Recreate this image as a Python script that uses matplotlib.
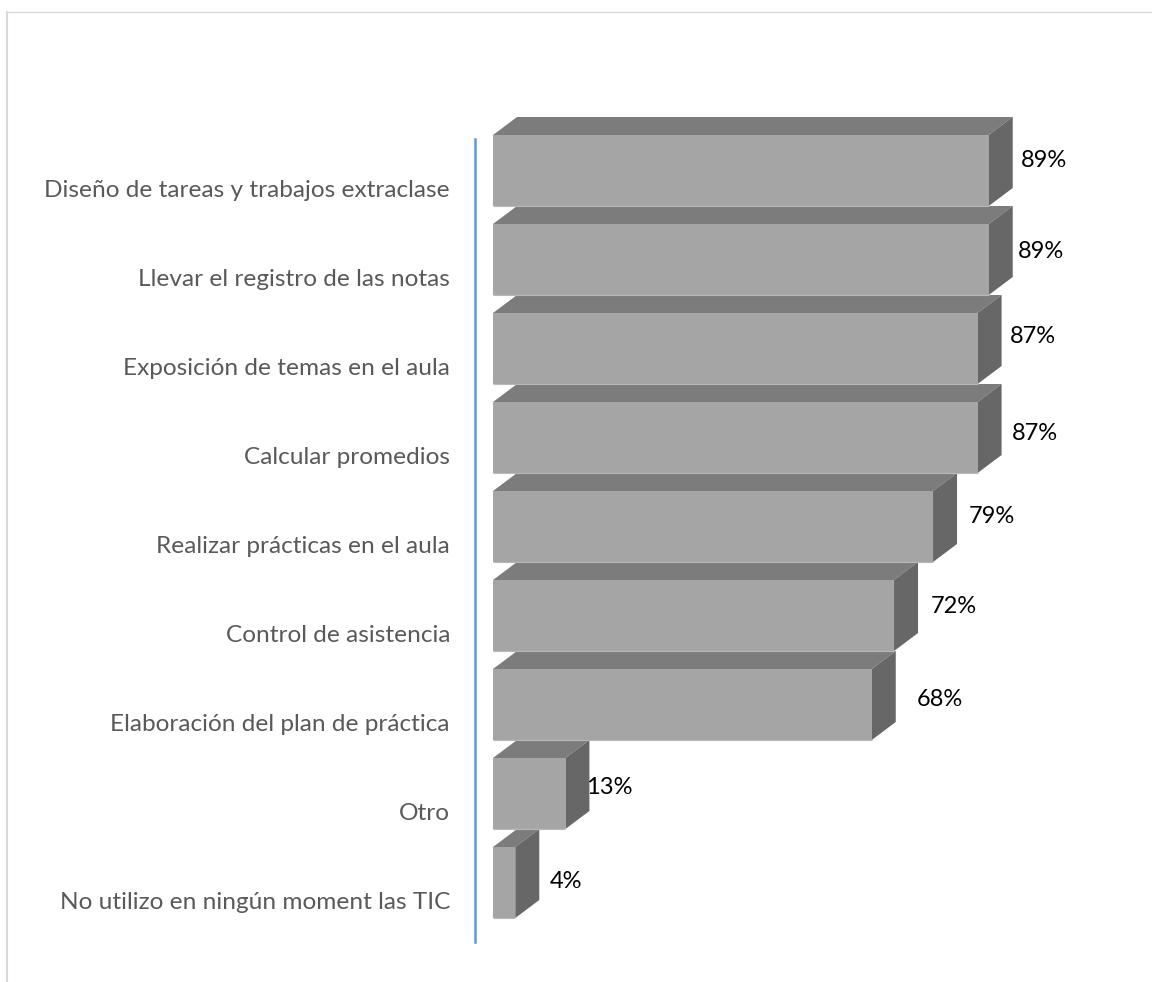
import matplotlib
matplotlib.use('Agg')
import matplotlib.pyplot as plt
from matplotlib.lines import Line2D

categories = ['Diseño de tareas y trabajos extraclase',
              'Llevar el registro de las notas',
              'Exposición de temas en el aula',
              'Calcular promedios',
              'Realizar prácticas en el aula',
              'Control de asistencia',
              'Elaboración del plan de práctica',
              'Otro',
              'No utilizo en ningún moment las TIC']
values = [89, 89, 87, 87, 79, 72, 68, 13, 4]

# hand placed data labels, offset in px from the end / centre of each bar
label_dx = [32, 29, 32, 34, 36, 37, 45, 21, 34]
label_dy = [-10, -8, -12, -4, -10, -9, -5, -6, -1]

W, H = 1152, 982
PX_PER_PCT = 5.57
PX_PER_ROW = 89.0

plt.rcParams['font.family'] = ['Lato', 'DejaVu Sans']

fig = plt.figure(figsize=(W / 100, H / 100), dpi=100, facecolor='white')

# axes run from the blue axis line to the right edge of the figure
left, top, bottom = 475, 139, 942
ax = fig.add_axes([left / W, 1 - bottom / H, (W - left) / W, (bottom - top) / H])
ax.set_xlim(-18 / PX_PER_PCT, (W - 493) / PX_PER_PCT)
ax.set_ylim((bottom - 170.5) / PX_PER_ROW, (top - 170.5) / PX_PER_ROW)
ax.patch.set_visible(False)

for side in ['top', 'right', 'bottom']:
    ax.spines[side].set_visible(False)
ax.spines['left'].set_color('#5b9bd5')
ax.spines['left'].set_linewidth(1.8)
ax.xaxis.set_visible(False)

# 3d look: front, top and side face of each bar
half = 35.5 / PX_PER_ROW
dx = 24 / PX_PER_PCT
dy = 18 / PX_PER_ROW
for i, v in enumerate(values):
    y0, y1 = i - half, i + half
    ax.fill([0, v, v + dx, dx], [y0, y0, y0 - dy, y0 - dy], color='#7c7c7c', lw=0, clip_on=False)
    ax.fill([v, v + dx, v + dx, v], [y0, y0 - dy, y1 - dy, y1], color='#676767', lw=0, clip_on=False)
    ax.fill([0, v, v, 0], [y0, y0, y1, y1], color='#a5a5a5', lw=0, clip_on=False)
    ax.plot([0, v], [y1, y1], color='#b8b8b8', lw=0.8, clip_on=False, solid_capstyle='butt')
    ax.annotate('%d%%' % v, xy=(v, i), xytext=(label_dx[i] * 0.72, -label_dy[i] * 0.72),
                textcoords='offset points', ha='left', va='center',
                fontsize=17, color='black', annotation_clip=False)

# category labels sit a little lower than the front faces
ax.set_yticks([i + dy for i in range(len(categories))])
ax.set_yticklabels(categories, fontsize=17.6, color='#595959')
ax.tick_params(axis='y', length=0, pad=18)

# thin outer frame, only top and left are in view
frame = '#d9d9d9'
fig.add_artist(Line2D([6.5 / W, 6.5 / W], [0, 1 - 11.5 / H], color=frame, lw=1.5))
fig.add_artist(Line2D([6.5 / W, 1], [1 - 11.5 / H, 1 - 11.5 / H], color=frame, lw=1.0))

fig.savefig('out.png', dpi=100)
